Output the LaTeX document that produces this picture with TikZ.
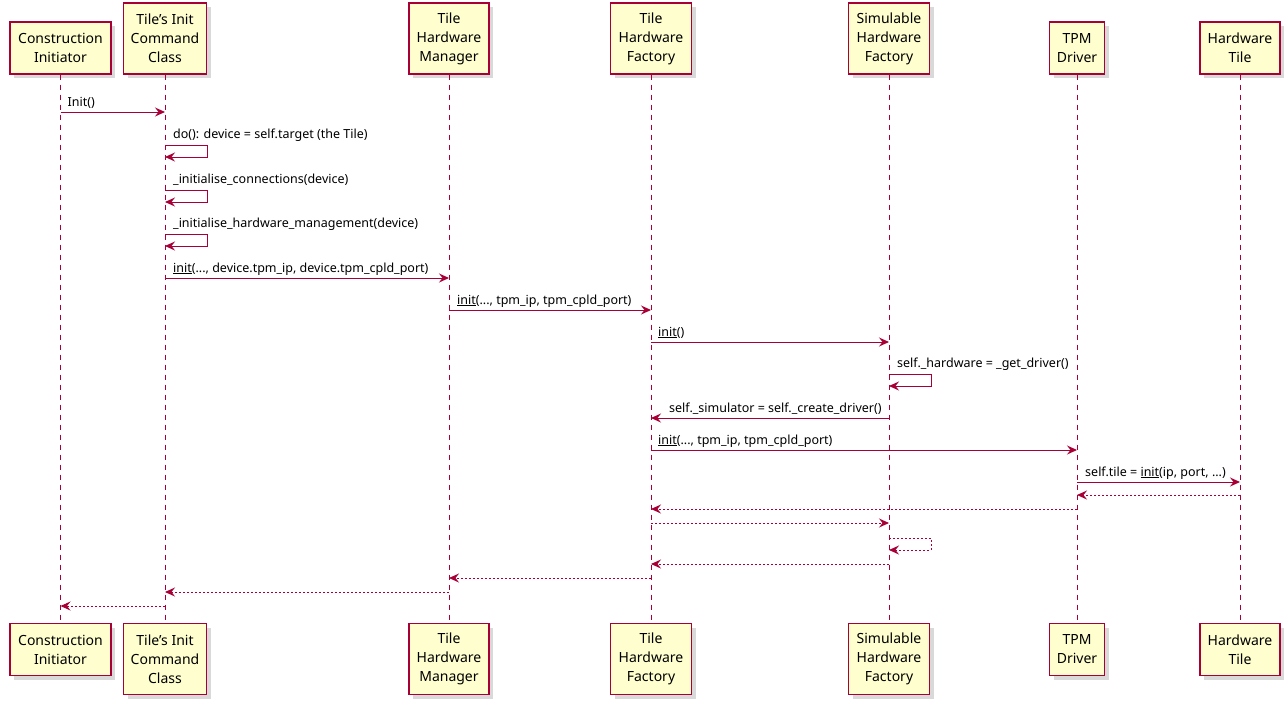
\documentclass[tikz,border=0pt]{standalone}
\usepackage{fontspec}
\setmainfont{Noto Sans}[Ligatures=NoCommon]
\usetikzlibrary{arrows.meta,shadows}
\definecolor{pborder}{HTML}{A80036}
\definecolor{pfill}{HTML}{FEFECE}
\newcommand{\apos}{{\char"0027}}
\begin{document}
\begin{tikzpicture}[x=1pt,y=-1pt,
  part/.style={draw=pborder, fill=pfill, line width=1.1pt, align=center,
    font=\fontsize{14}{19}\selectfont, inner sep=0pt, minimum height=#1,
    drop shadow={shadow xshift=4pt, shadow yshift=-4pt, opacity=0.25, fill=black!60}},
  part/.default=52,
  life/.style={draw=pborder, line width=0.9pt, dash pattern=on 5pt off 5pt},
  msg/.style={draw=pborder, line width=1pt, -{Stealth[length=10pt,width=9pt,inset=3.5pt]}},
  ret/.style={msg, dash pattern=on 2pt off 2pt},
  lbl/.style={font=\fontsize{12.5}{15}\selectfont, inner sep=0pt, text=black},
]
\useasboundingbox (0,0) rectangle (1288,705);

% participants (top)
\node[part, minimum width=101] (t1) at (60.5,48) {Construction\\Initiator};
\node[part=71, minimum width=83] (t2) at (165,38.5) {Tile\apos s Init\\Command\\Class};
\node[part=71, minimum width=80] (t3) at (449,38.5) {Tile\\Hardware\\Manager};
\node[part=71, minimum width=81] (t4) at (651,38.5) {Tile\\Hardware\\Factory};
\node[part=71, minimum width=81] (t5) at (889,38.5) {Simulable\\Hardware\\Factory};
\node[part, minimum width=55] (t6) at (1077,48) {TPM\\Driver};
\node[part, minimum width=80] (t7) at (1240,48) {Hardware\\Tile};

% participants (bottom)
\node[part, minimum width=101] (b1) at (60.5,649.5) {Construction\\Initiator};
\node[part=71, minimum width=83] (b2) at (165,659) {Tile\apos s Init\\Command\\Class};
\node[part=71, minimum width=80] (b3) at (449,659) {Tile\\Hardware\\Manager};
\node[part=71, minimum width=81] (b4) at (651,659) {Tile\\Hardware\\Factory};
\node[part=71, minimum width=81] (b5) at (889,659) {Simulable\\Hardware\\Factory};
\node[part, minimum width=55] (b6) at (1077,649.5) {TPM\\Driver};
\node[part, minimum width=80] (b7) at (1240,649.5) {Hardware\\Tile};

% lifelines
\foreach \i in {1,...,7} {
  \draw[life] (t\i.south) -- (b\i.north);
}

% messages
\draw[msg] (t1 |- 0,112) -- (t2 |- 0,112);
\node[lbl, anchor=base west] (l1) at ([xshift=7pt]t1 |- 0,106) {Init()};

\draw[msg] (t2 |- 0,145) -- ++(42,0) -- ++(0,12) -- (t2 |- 0,157);
\node[lbl, anchor=base west] (l2) at ([xshift=8pt]t2 |- 0,138) {do(): device = self.target (the Tile)};

\draw[msg] (t2 |- 0,190) -- ++(42,0) -- ++(0,12) -- (t2 |- 0,202);
\node[lbl, anchor=base west] (l3) at ([xshift=8pt]t2 |- 0,183) {\_initialise\_connections(device)};

\draw[msg] (t2 |- 0,234) -- ++(42,0) -- ++(0,12) -- (t2 |- 0,246);
\node[lbl, anchor=base west] (l4) at ([xshift=8pt]t2 |- 0,227) {\_initialise\_hardware\_management(device)};

\draw[msg] (t2 |- 0,278) -- (t3 |- 0,278);
\node[lbl, anchor=base west] (l5) at ([xshift=8pt]t2 |- 0,272) {\underline{init}(..., device.tpm\_ip, device.tpm\_cpld\_port)};

\draw[msg] (t3 |- 0,310) -- (t4 |- 0,310);
\node[lbl, anchor=base west] (l6) at ([xshift=8pt]t3 |- 0,304) {\underline{init}(..., tpm\_ip, tpm\_cpld\_port)};

\draw[msg] (t4 |- 0,342) -- (t5 |- 0,342);
\node[lbl, anchor=base west] (l7) at ([xshift=7pt]t4 |- 0,336) {\underline{init}()};

\draw[msg] (t5 |- 0,374) -- ++(42,0) -- ++(0,12) -- (t5 |- 0,386);
\node[lbl, anchor=base west] (l8) at ([xshift=8pt]t5 |- 0,367) {self.\_hardware = \_get\_driver()};

\draw[msg] (t5 |- 0,418) -- (t4 |- 0,418);
\node[lbl, anchor=base west] (l9) at ([xshift=18pt]t4 |- 0,412) {self.\_simulator = self.\_create\_driver()};

\draw[msg] (t4 |- 0,450) -- (t6 |- 0,450);
\node[lbl, anchor=base west] (l10) at ([xshift=7pt]t4 |- 0,444) {\underline{init}(..., tpm\_ip, tpm\_cpld\_port)};

\draw[msg] (t6 |- 0,482) -- (t7 |- 0,482);
\node[lbl, anchor=base west] (l11) at ([xshift=8pt]t6 |- 0,476) {self.tile = \underline{init}(ip, port, ...)};

% returns
\draw[ret] (t7 |- 0,495) -- (t6 |- 0,495);
\draw[ret] (t6 |- 0,509) -- (t4 |- 0,509);
\draw[ret] (t4 |- 0,523) -- (t5 |- 0,523);
\draw[ret] (t5 |- 0,538) -- ++(42,0) -- ++(0,12) -- (t5 |- 0,550);
\draw[ret] (t5 |- 0,564) -- (t4 |- 0,564);
\draw[ret] (t4 |- 0,578) -- (t3 |- 0,578);
\draw[ret] (t3 |- 0,592) -- (t2 |- 0,592);
\draw[ret] (t2 |- 0,606) -- (t1 |- 0,606);
\end{tikzpicture}
\end{document}
